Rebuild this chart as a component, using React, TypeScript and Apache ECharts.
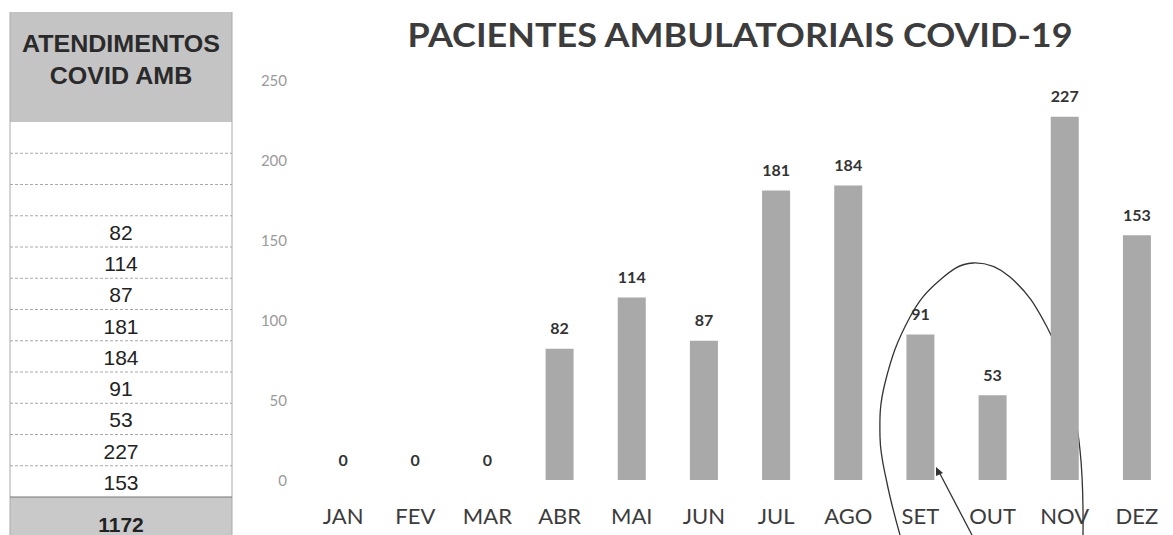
import React, { useEffect, useRef } from "react";
import * as echarts from "echarts";

const months = ["JAN", "FEV", "MAR", "ABR", "MAI", "JUN", "JUL", "AGO", "SET", "OUT", "NOV", "DEZ"];
const atendimentos = [0, 0, 0, 82, 114, 87, 181, 184, 91, 53, 227, 153];
const yTicks = [0, 50, 100, 150, 200, 250];
const tableHeader = ["ATENDIMENTOS", "COVID AMB"];
const chartTitle = "PACIENTES AMBULATORIAIS COVID-19";

export default function App() {
  const ref = useRef<HTMLDivElement>(null);
  useEffect(() => {
    document.body.style.margin = "0";
    const chart = echarts.init(ref.current!, undefined, { renderer: "svg" });
    const total = atendimentos.reduce((a, b) => a + b, 0);

    const tableX = 10;
    const tableW = 222;
    const headTop = 12;
    const headBottom = 122;
    const rowH = 31.25;
    const cx = tableX + tableW / 2;
    const g: any[] = [];
    g.push({ type: "rect", shape: { x: tableX, y: headTop, width: tableW, height: headBottom - headTop }, style: { fill: "#c4c4c4" } });
    tableHeader.forEach((t, i) =>
      g.push({
        type: "text",
        x: cx,
        y: 44 + i * 32,
        scaleX: 1.09,
        style: { text: t, font: "bold 23px 'Liberation Sans', Arial", fill: "#2a2a2a", align: "center", verticalAlign: "middle" },
      })
    );
    const totalTop = headBottom + rowH * months.length;
    g.push({ type: "rect", shape: { x: tableX, y: totalTop, width: tableW, height: 535 - totalTop }, style: { fill: "#c9c9c9" } });
    g.push({ type: "line", shape: { x1: tableX, y1: headTop, x2: tableX, y2: 535 }, style: { stroke: "#aaaaaa", lineWidth: 1 } });
    g.push({ type: "line", shape: { x1: tableX + tableW, y1: headTop, x2: tableX + tableW, y2: 535 }, style: { stroke: "#aaaaaa", lineWidth: 1 } });
    atendimentos.forEach((v, i) => {
      const top = headBottom + rowH * i;
      if (i > 0) {
        g.push({ type: "line", shape: { x1: tableX, y1: top, x2: tableX + tableW, y2: top }, style: { stroke: "#a8a8a8", lineWidth: 1, lineDash: [3, 2] } });
      }
      g.push({
        type: "text",
        x: cx,
        y: top + rowH / 2 + 1,
        style: { text: v === 0 ? "" : String(v), font: "21px 'Liberation Sans', Arial", fill: "#222", align: "center", verticalAlign: "middle" },
      });
    });
    g.push({ type: "line", shape: { x1: tableX, y1: totalTop, x2: tableX + tableW, y2: totalTop }, style: { stroke: "#777", lineWidth: 1 } });
    g.push({
      type: "text",
      x: cx,
      y: totalTop + 27,
      style: { text: String(total), font: "bold 21px 'Liberation Sans', Arial", fill: "#222", align: "center", verticalAlign: "middle" },
    });

    g.push({
      type: "text",
      x: 740,
      y: 34,
      scaleX: 1.125,
      style: { text: chartTitle, font: "bold 32px Lato", fill: "#3c3c3c", align: "center", verticalAlign: "middle" },
    });

    // hand-drawn annotation
    g.push({
      type: "polyline",
      shape: {
        points: [[900, 535], [887, 483], [880, 437], [885, 383], [910, 317], [940, 280], [973, 263], [1010, 277], [1047, 327], [1067, 383], [1080, 450], [1083, 535]],
        smooth: 0.4,
      },
      style: { stroke: "#333", lineWidth: 1.3, fill: null },
    });
    g.push({ type: "line", shape: { x1: 938, y1: 470, x2: 972, y2: 535 }, style: { stroke: "#333", lineWidth: 1.3 } });
    g.push({ type: "polygon", shape: { points: [[936, 467], [936, 476], [943, 473]] }, style: { fill: "#333" } });

    chart.setOption({
      animation: false,
      backgroundColor: "#ffffff",
      grid: { left: 307, top: 80, width: 871, bottom: 55, containLabel: false },
      xAxis: {
        type: "category",
        data: months,
        axisLine: { show: false },
        axisTick: { show: false },
        axisLabel: { color: "#3c3c3c", fontSize: 22, fontFamily: "Lato", margin: 24 },
      },
      yAxis: {
        type: "value",
        min: yTicks[0],
        max: yTicks[yTicks.length - 1],
        interval: 50,
        splitLine: { show: false },
        axisLine: { show: false },
        axisTick: { show: false },
        axisLabel: { color: "#9a9a9a", fontSize: 15, fontFamily: "Lato", margin: 20 },
      },
      series: [
        {
          type: "bar",
          data: atendimentos,
          barWidth: 28,
          itemStyle: { color: "#a9a9a9" },
          label: { show: true, position: "top", distance: 13, color: "#333", fontSize: 16, fontWeight: "bold", fontFamily: "Lato" },
        },
      ],
      graphic: g,
    });
    return () => chart.dispose();
  }, []);
  return <div ref={ref} style={{ width: 1173, height: 535 }} />;
}
